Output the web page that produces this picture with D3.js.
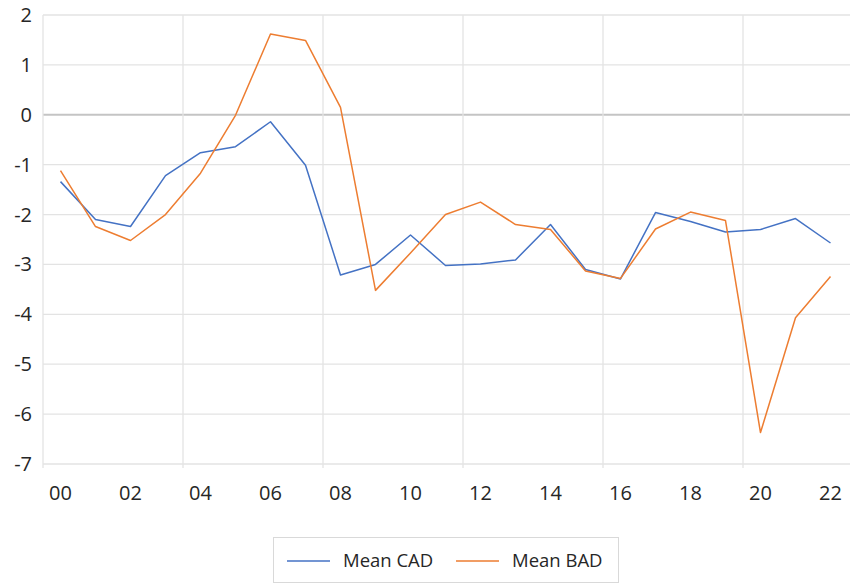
<!DOCTYPE html>
<html>
<head>
<meta charset="utf-8">
<script src="https://cdn.jsdelivr.net/npm/d3@7"></script>
<style>
  body { margin: 0; background: #fff; }
  text { font-family: "Open Sans", "Noto Sans", sans-serif; }
</style>
</head>
<body>
<script>
// Datos
const years = ["00","01","02","03","04","05","06","07","08","09","10","11",
               "12","13","14","15","16","17","18","19","20","21","22"];
const meanCAD = [-1.34, -2.10, -2.24, -1.22, -0.76, -0.64, -0.14, -1.01, -3.21, -3.00, -2.41, -3.02,
                 -2.99, -2.91, -2.20, -3.10, -3.29, -1.96, -2.14, -2.35, -2.30, -2.08, -2.57];
const meanBAD = [-1.12, -2.24, -2.52, -2.00, -1.17, -0.01, 1.62, 1.49, 0.15, -3.52, -2.77, -2.00,
                 -1.75, -2.20, -2.30, -3.13, -3.28, -2.29, -1.95, -2.12, -6.37, -4.07, -3.24];
const yTicks = [2, 1, 0, -1, -2, -3, -4, -5, -6, -7];
const seriesNames = ["Mean CAD", "Mean BAD"];

const width = 854, height = 585;
const plot = { left: 43, right: 848, top: 15, bottom: 464 };

const svg = d3.select("body").append("svg")
    .attr("width", width)
    .attr("height", height);

// Escalas
const x = d3.scaleBand()
    .domain(years)
    .range([plot.left, plot.right]);

const y = d3.scaleLinear()
    .domain([-7, 2])
    .range([plot.bottom, plot.top]);

const cx = d => x(d) + x.bandwidth() / 2;

// Rejilla horizontal
svg.append("g").selectAll("line")
    .data(yTicks)
    .enter().append("line")
    .attr("x1", plot.left)
    .attr("x2", plot.right + 2)
    .attr("y1", d => y(d))
    .attr("y2", d => y(d))
    .attr("stroke", d => d === 0 ? "#c4c4c4" : "#e3e3e3")
    .attr("stroke-width", d => d === 0 ? 2 : 1.3);

// Rejilla vertical (cada 4 categorías)
const vBounds = years.filter((d, i) => i % 4 === 0);
svg.append("g").selectAll("line")
    .data(vBounds)
    .enter().append("line")
    .attr("x1", d => x(d))
    .attr("x2", d => x(d))
    .attr("y1", plot.top)
    .attr("y2", plot.bottom + 4)
    .attr("stroke", "#e3e3e3")
    .attr("stroke-width", 1.3);

// Etiquetas eje Y
svg.append("g").selectAll("text")
    .data(yTicks)
    .enter().append("text")
    .attr("x", 32)
    .attr("y", d => y(d))
    .attr("dy", "0.35em")
    .attr("text-anchor", "end")
    .attr("font-size", "20px")
    .attr("fill", "#262626")
    .text(d => d);

// Etiquetas eje X
svg.append("g").selectAll("text")
    .data(years.filter((d, i) => i % 2 === 0))
    .enter().append("text")
    .attr("x", d => cx(d))
    .attr("y", 500)
    .attr("text-anchor", "middle")
    .attr("font-size", "20px")
    .attr("fill", "#262626")
    .text(d => d);

// Líneas
const line = d3.line()
    .x((d, i) => cx(years[i]))
    .y(d => y(d));

const colors = ["#4472C4", "#ED7D31"];
[meanCAD, meanBAD].forEach((s, k) => {
    svg.append("path")
        .datum(s)
        .attr("fill", "none")
        .attr("stroke", colors[k])
        .attr("stroke-width", 1.5)
        .attr("stroke-linejoin", "round")
        .attr("d", line);
});

// Leyenda
const legend = svg.append("g");
legend.append("rect")
    .attr("x", 273.5).attr("y", 537.5)
    .attr("width", 345).attr("height", 45)
    .attr("fill", "#fff")
    .attr("stroke", "#d9d9d9");

const legX = [287, 456];
seriesNames.forEach((name, k) => {
    legend.append("line")
        .attr("x1", legX[k]).attr("x2", legX[k] + 43)
        .attr("y1", 561).attr("y2", 561)
        .attr("stroke", colors[k])
        .attr("stroke-width", 1.5);
    legend.append("text")
        .attr("x", legX[k] + 56)
        .attr("y", 561)
        .attr("dy", "0.35em")
        .attr("font-size", "18.5px")
        .attr("fill", "#262626")
        .text(name);
});
</script>
</body>
</html>
